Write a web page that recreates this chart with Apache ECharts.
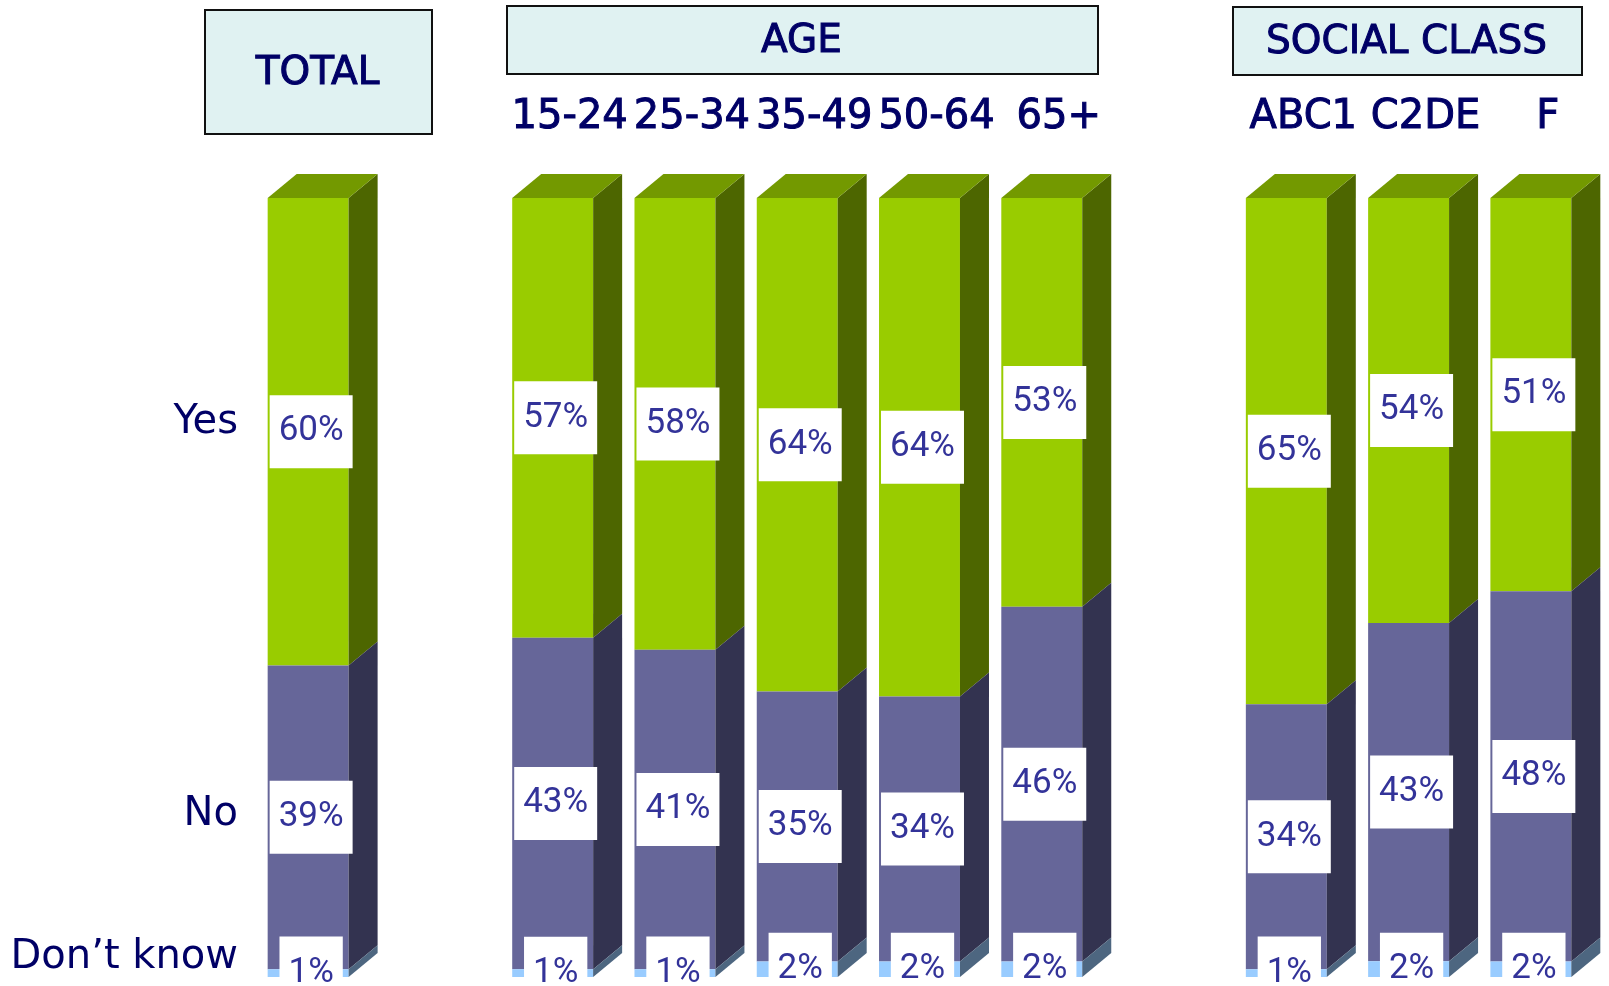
<!DOCTYPE html>
<html>
<head>
<meta charset="utf-8">
<script src="https://cdn.jsdelivr.net/npm/echarts@6/dist/echarts.min.js"></script>
<style>
  html, body { margin: 0; padding: 0; background: #ffffff; }
  #chart { width: 1609px; height: 986px; }
</style>
</head>
<body>
<div id="chart"></div>
<script>
// Column slots along the axis; empty strings are spacer slots between groups
const tickLabels = ['', '', '15-24', '25-34', '35-49', '50-64', '65+', '', 'ABC1', 'C2DE', 'F'];
const yesValues  = [60, null, 57, 58, 64, 64, 53, null, 65, 54, 51];
const noValues   = [39, null, 43, 41, 35, 34, 46, null, 34, 43, 48];
const dkValues   = [1,  null, 1,  1,  2,  2,  2,  null, 1,  2,  2];
const seriesNames = ['Yes', 'No', 'Don\u2019t know'];
const groupTitles = ['TOTAL', 'AGE', 'SOCIAL CLASS'];

// Face colours: front, side, top
const palette = {
  yes: { front: '#99CC00', side: '#4D6600', top: '#739900' },
  no:  { front: '#666699', side: '#333350', top: '#4D4D73' },
  dk:  { front: '#99CCFF', side: '#4D6680', top: '#739ABF' }
};
const DEPTH_X = 29, DEPTH_Y = 24;
const NAVY = '#000066';
const LABEL_BLUE = '#333399';

// Each column is a 100% stack: Don't know at the bottom, then No, then Yes
function buildSegments() {
  const yes = [], no = [], dk = [];
  tickLabels.forEach((_, i) => {
    if (yesValues[i] == null) return;
    const sum = yesValues[i] + noValues[i] + dkValues[i];
    const d = dkValues[i] / sum * 100;
    const n = noValues[i] / sum * 100;
    dk.push([i, 0, d, dkValues[i]]);
    no.push([i, d, d + n, noValues[i]]);
    yes.push([i, d + n, 100, yesValues[i]]);
  });
  return { yes, no, dk };
}
const seg = buildSegments();

function makeRenderer(colors, isTop) {
  return function (params, api) {
    const i = api.value(0);
    const pB = api.coord([i, api.value(1)]);
    const pT = api.coord([i, api.value(2)]);
    const v = api.value(3);
    const w = api.size([1, 0])[0] * 0.662;
    const L = pB[0] - w / 2, R = pB[0] + w / 2;
    const yB = pB[1], yT = pT[1];
    const children = [
      { type: 'rect', shape: { x: L, y: yT, width: w, height: yB - yT },
        style: { fill: colors.front } },
      { type: 'polygon',
        shape: { points: [[R, yT], [R + DEPTH_X, yT - DEPTH_Y], [R + DEPTH_X, yB - DEPTH_Y], [R, yB]] },
        style: { fill: colors.side } }
    ];
    if (isTop) {
      children.push({ type: 'polygon',
        shape: { points: [[L, yT], [L + DEPTH_X, yT - DEPTH_Y], [R + DEPTH_X, yT - DEPTH_Y], [R, yT]] },
        style: { fill: colors.top } });
    }
    children.push({
      type: 'text', z2: 20,
      style: {
        text: v + '%', x: pB[0] + 3, y: (yB + yT) / 2,
        align: 'center', verticalAlign: 'middle',
        fill: LABEL_BLUE, font: '35px Roboto',
        backgroundColor: '#ffffff', padding: [16, 9], lineHeight: 41
      }
    });
    return { type: 'group', children: children };
  };
}

const chart = echarts.init(document.getElementById('chart'), null, { renderer: 'canvas' });

const headerBoxes = [
  { x: 204, y: 9, w: 227, h: 124 },
  { x: 506, y: 5, w: 591, h: 68 },
  { x: 1232, y: 6, w: 349, h: 68 }
];
const graphics = [];
headerBoxes.forEach((b, k) => {
  graphics.push({ type: 'rect', left: b.x, top: b.y,
    shape: { width: b.w, height: b.h },
    style: { fill: '#E0F2F2', stroke: '#111111', lineWidth: 2 } });
  graphics.push({ type: 'text', x: b.x + b.w / 2, y: b.y + b.h / 2 + 3,
    style: { text: groupTitles[k], align: 'center', verticalAlign: 'middle',
      fill: NAVY, font: '39px "DejaVu Sans"', stroke: NAVY, lineWidth: 1 } });
});
const rowLabelY = [423, 815, 958];
seriesNames.forEach((name, k) => {
  graphics.push({ type: 'text', x: 238, y: rowLabelY[k],
    style: { text: name, align: 'right', verticalAlign: 'middle',
      fill: NAVY, font: '40px "DejaVu Sans"' } });
});

chart.setOption({
  animation: false,
  backgroundColor: '#ffffff',
  grid: { left: 247, right: 17, top: 198, bottom: 9 },
  xAxis: {
    type: 'category', data: tickLabels, position: 'top',
    axisLine: { show: false }, axisTick: { show: false },
    axisLabel: { interval: 0, margin: 80, verticalAlign: 'middle',
      color: NAVY, fontFamily: 'DejaVu Sans', fontSize: 40,
      textBorderColor: NAVY, textBorderWidth: 1,
      padding: [0, 0, 0, 34] }
  },
  yAxis: { type: 'value', min: 0, max: 100, show: false },
  series: [
    { type: 'custom', name: seriesNames[0], data: seg.yes, renderItem: makeRenderer(palette.yes, true) },
    { type: 'custom', name: seriesNames[1], data: seg.no, renderItem: makeRenderer(palette.no, false) },
    { type: 'custom', name: seriesNames[2], data: seg.dk, renderItem: makeRenderer(palette.dk, false) }
  ],
  graphic: graphics
});
</script>
</body>
</html>
